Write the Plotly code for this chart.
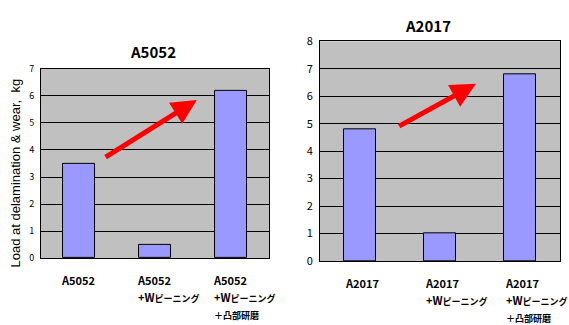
import re
import plotly.graph_objects as go

# Data
cats_a5052 = ["A5052", "A5052<br>+Wピーニング", "A5052<br>+Wピーニング<br>＋凸部研磨"]
vals_a5052 = [3.5, 0.5, 6.2]
cats_a2017 = ["A2017", "A2017<br>+Wピーニング", "A2017<br>+Wピーニング<br>＋凸部研磨"]
vals_a2017 = [4.8, 1.0, 6.8]
ticks_a5052 = [0, 1, 2, 3, 4, 5, 6, 7]
ticks_a2017 = [0, 1, 2, 3, 4, 5, 6, 7, 8]
# trend arrows: (tail x, tail y, head x, head y) in category index / load units
arrow_a5052 = (0.33, 3.7, 1.55, 5.85)
arrow_a2017 = (0.47, 4.88, 1.45, 6.45)

BAR = "#9999ff"
BG = "#c0c0c0"
JP = "Noto Sans CJK JP"


def label_html(text):
    # Latin text at 11px, Japanese runs a little smaller so the kana stay narrow
    lines = []
    for line in text.split("<br>"):
        parts = re.split(r"([\u3000-\u30ff\u4e00-\u9fff\uff00-\uffef]+)", line)
        out = ""
        for k, p in enumerate(parts):
            if not p:
                continue
            size = 9 if k % 2 == 1 else 11
            out += '<span style="font-size:%dpx">%s</span>' % (size, p)
        lines.append(out)
    return "<b>" + "<br>".join(lines) + "</b>"


fig = go.Figure()
fig.add_trace(go.Bar(x=list(range(3)), y=vals_a5052, xaxis="x", yaxis="y",
                     marker=dict(color=BAR, line=dict(color="black", width=1)),
                     width=0.41, showlegend=False))
fig.add_trace(go.Bar(x=list(range(3)), y=vals_a2017, xaxis="x2", yaxis="y2",
                     marker=dict(color=BAR, line=dict(color="black", width=1)),
                     width=0.41, showlegend=False))

axis_common = dict(showline=True, linecolor="black", linewidth=1, mirror=True,
                   zeroline=False)
fig.update_layout(
    width=569, height=325,
    margin=dict(l=0, r=0, t=0, b=0),
    paper_bgcolor="white",
    plot_bgcolor=BG,
    bargap=0,
    xaxis=dict(domain=[0.0721, 0.4728], range=[-0.5, 2.5], showticklabels=False,
               showgrid=False, ticks="", anchor="y", **axis_common),
    yaxis=dict(domain=[0.1938, 0.8062], range=[0, 7], tickvals=ticks_a5052,
               showgrid=True, gridcolor="black", gridwidth=1, ticks="",
               tickfont=dict(family=JP, size=9, color="black"),
               ticklabelstandoff=4, anchor="x", **axis_common),
    xaxis2=dict(domain=[0.5624, 0.9842], range=[-0.5, 2.5], showticklabels=False,
                showgrid=False, ticks="", anchor="y2", **axis_common),
    yaxis2=dict(domain=[0.1846, 0.8954], range=[0, 8], tickvals=ticks_a2017,
                showgrid=True, gridcolor="black", gridwidth=1, ticks="",
                tickfont=dict(family=JP, size=11, color="black"),
                ticklabelstandoff=4, anchor="x2", **axis_common),
)

ann = []
# Titles
ann.append(dict(text="<b>A5052</b>", x=153 / 569, y=1 - 45 / 325, xref="paper", yref="paper",
                xanchor="center", yanchor="middle", showarrow=False,
                font=dict(family=JP, size=15, color="black")))
ann.append(dict(text="<b>A2017</b>", x=428 / 569, y=1 - 17 / 325, xref="paper", yref="paper",
                xanchor="center", yanchor="middle", showarrow=False,
                font=dict(family=JP, size=15, color="black")))
# Y axis title
ann.append(dict(text="Load at delamination & wear,  kg", x=15 / 569, y=1 - 173 / 325,
                xref="paper", yref="paper", xanchor="center", yanchor="middle",
                textangle=-90, showarrow=False,
                font=dict(family="Liberation Sans", size=13, color="black")))

# Category labels (line pitch set by the 13px annotation font)
for i, c in enumerate(cats_a5052):
    ann.append(dict(text=label_html(c), x=i, y=1 - 275 / 325, xref="x", yref="paper",
                    xanchor="left", yanchor="top", xshift=-20, align="left",
                    showarrow=False,
                    font=dict(family=JP, size=13, color="black")))
for i, c in enumerate(cats_a2017):
    ann.append(dict(text=label_html(c), x=i, y=1 - 278 / 325, xref="x2", yref="paper",
                    xanchor="left", yanchor="top", xshift=-17, align="left",
                    showarrow=False,
                    font=dict(family=JP, size=13, color="black")))

# Trend arrows
for (x0, y0, x1, y1), xr, yr in [(arrow_a5052, "x", "y"), (arrow_a2017, "x2", "y2")]:
    ann.append(dict(x=x1, y=y1, ax=x0, ay=y0, xref=xr, yref=yr, axref=xr, ayref=yr,
                    text="", showarrow=True, arrowhead=2, arrowsize=1.0,
                    arrowwidth=5, arrowcolor="#ff0000"))

fig.update_layout(annotations=ann)
fig.write_html("out.html")
